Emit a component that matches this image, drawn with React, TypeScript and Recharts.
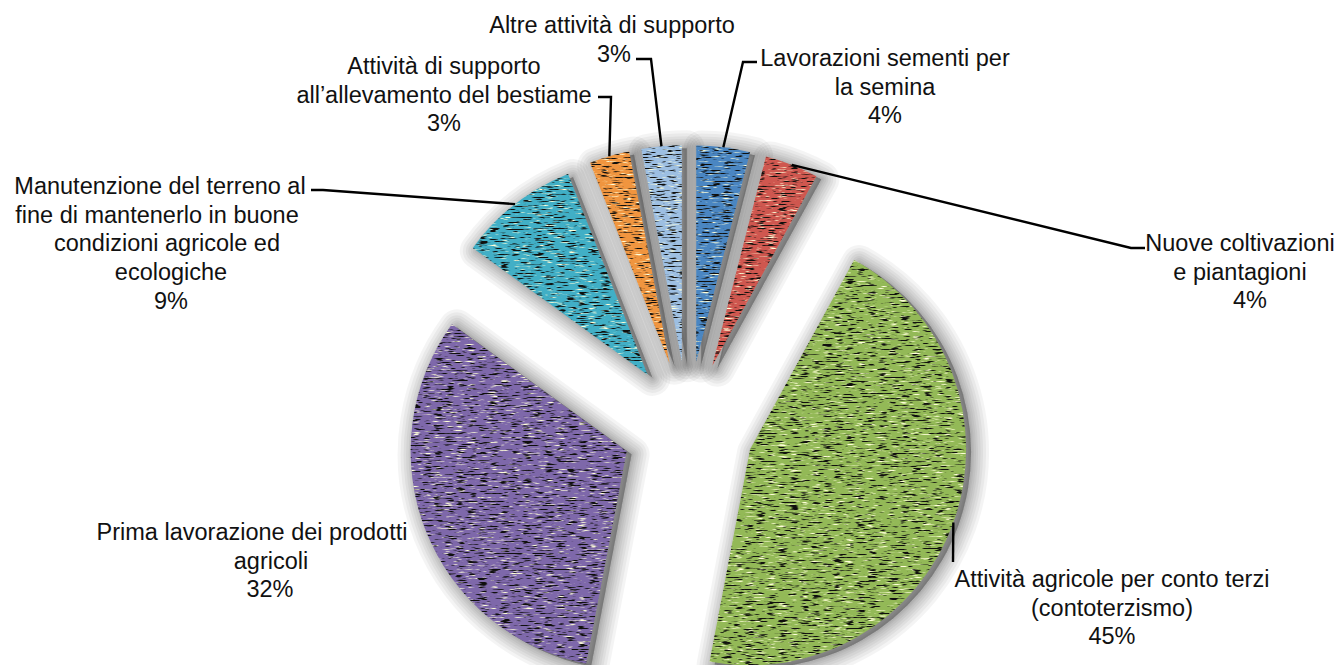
import React from "react";
import { PieChart, Pie, Cell, Sector } from "recharts";

// slice names, already wrapped the way they are printed
const categories: string[][] = [
  ["Lavorazioni sementi per", "la semina"],
  ["Nuove coltivazioni", "e piantagioni"],
  ["Attività agricole per conto terzi", "(contoterzismo)"],
  ["Prima lavorazione dei prodotti", "agricoli"],
  ["Manutenzione del terreno al", "fine di mantenerlo in buone", "condizioni agricole ed", "ecologiche"],
  ["Attività di supporto", "all\u2019allevamento del bestiame"],
  ["Altre attività di supporto"],
];
const shares = [4, 4, 45, 32, 9, 3, 3];
const colors = ["#4a86c2", "#cf574f", "#93b957", "#7e68aa", "#41afc6", "#f0953f", "#9dbfe2"];

const data = categories.map((lines, i) => ({ name: lines.join(" "), value: shares[i] }));

// where each label sits: centre x of every line, first baseline, and the
// elbow points of the leader after it leaves the slice
const labelLayout: { xs: number[]; y: number; leader: number[][] }[] = [
  { xs: [885, 885, 885], y: 66, leader: [[743, 62], [757, 62]] },
  { xs: [1240, 1240, 1250], y: 251, leader: [[1131, 248], [1145, 248]] },
  { xs: [1112, 1112, 1112], y: 587, leader: [[953, 562]] },
  { xs: [252, 271, 270], y: 540, leader: [] },
  { xs: [160, 157, 167, 171, 171], y: 194, leader: [[323, 190], [311, 190]] },
  { xs: [444, 444, 444], y: 74, leader: [[611, 97], [598, 97]] },
  { xs: [612, 614], y: 33, leader: [[651, 59], [636, 59]] },
];

const RADIAN = Math.PI / 180;
const EXPLODE = 66;
const LINE_HEIGHT = 28.7;
const HALO_WIDTHS = [36, 30, 24, 19, 14, 10, 6, 3];

const shift = (midAngle: number) => ({
  dx: EXPLODE * Math.cos(-midAngle * RADIAN),
  dy: EXPLODE * Math.sin(-midAngle * RADIAN),
});

// soft grey shadow: stacked translucent outlines, drawn under all slices
const HaloSector = (props: any) => {
  const { dx, dy } = shift(props.midAngle);
  return (
    <g>
      {HALO_WIDTHS.map((w) => (
        <Sector
          key={w}
          {...props}
          cx={props.cx + dx + 5}
          cy={props.cy + dy + 3}
          fill="#000"
          fillOpacity={0.045}
          stroke="#000"
          strokeOpacity={0.045}
          strokeWidth={w}
          strokeLinejoin="round"
        />
      ))}
    </g>
  );
};

// every slice pulled out along its bisector, woven fill
const ExplodedSector = (props: any) => {
  const { dx, dy } = shift(props.midAngle);
  return (
    <g filter="url(#burlap)">
      <Sector {...props} cx={props.cx + dx} cy={props.cy + dy} stroke="none" />
    </g>
  );
};

const renderLabel = (props: any) => {
  const { cx, cy, midAngle, outerRadius, index } = props;
  const { dx, dy } = shift(midAngle);
  const ax = cx + dx + outerRadius * Math.cos(-midAngle * RADIAN);
  const ay = cy + dy + outerRadius * Math.sin(-midAngle * RADIAN);
  const layout = labelLayout[index];
  const lines = [...categories[index], `${shares[index]}%`];
  const pts = [[ax, ay], ...layout.leader].map((p) => p.join(",")).join(" ");
  return (
    <g key={`label-${index}`}>
      {layout.leader.length > 0 && (
        <polyline points={pts} fill="none" stroke="#000" strokeWidth={2.4} strokeLinejoin="miter" />
      )}
      <text
        textAnchor="middle"
        fontFamily="'Liberation Sans', Arial, sans-serif"
        fontSize={23.5}
        fill="#111"
      >
        {lines.map((line, i) => (
          <tspan key={i} x={layout.xs[i]} y={layout.y + i * LINE_HEIGHT}>
            {line}
          </tspan>
        ))}
      </text>
    </g>
  );
};

const pieGeometry = {
  cx: 688,
  cy: 427,
  innerRadius: 0,
  outerRadius: 216,
  startAngle: 90,
  endAngle: -270,
};

export default function App() {
  return (
    <div style={{ position: "absolute", left: 0, top: 0, width: 1339, height: 665, background: "#fff" }}>
      <PieChart width={1339} height={665} margin={{ top: 0, right: 0, bottom: 0, left: 0 }}>
        <defs>
          {/* woven fill: thin horizontal dark and light streaks */}
          <filter id="burlap" x="0%" y="0%" width="100%" height="100%" colorInterpolationFilters="sRGB">
            <feTurbulence type="fractalNoise" baseFrequency="0.09 0.75" numOctaves={2} seed={4} result="noise" />
            <feColorMatrix
              in="noise"
              type="matrix"
              values="0 0 0 0 0.06  0 0 0 0 0.06  0 0 0 0 0.05  -6.5 0 0 0 2.85"
              result="darkNoise"
            />
            <feComposite in="darkNoise" in2="SourceGraphic" operator="in" result="darkWeave" />
            <feColorMatrix
              in="noise"
              type="matrix"
              values="0 0 0 0 1  0 0 0 0 1  0 0 0 0 0.85  0 5 0 0 -3.0"
              result="lightNoise"
            />
            <feComposite in="lightNoise" in2="SourceGraphic" operator="in" result="lightWeave" />
            <feMerge>
              <feMergeNode in="SourceGraphic" />
              <feMergeNode in="lightWeave" />
              <feMergeNode in="darkWeave" />
            </feMerge>
          </filter>
        </defs>
        <Pie
          data={data}
          dataKey="value"
          {...pieGeometry}
          stroke="none"
          shape={HaloSector}
          activeShape={HaloSector}
          label={false}
          labelLine={false}
          isAnimationActive={false}
        />
        <Pie
          data={data}
          dataKey="value"
          nameKey="name"
          {...pieGeometry}
          stroke="none"
          shape={ExplodedSector}
          activeShape={ExplodedSector}
          label={renderLabel}
          labelLine={false}
          isAnimationActive={false}
        >
          {data.map((d, i) => (
            <Cell key={d.name} fill={colors[i]} />
          ))}
        </Pie>
      </PieChart>
    </div>
  );
}
